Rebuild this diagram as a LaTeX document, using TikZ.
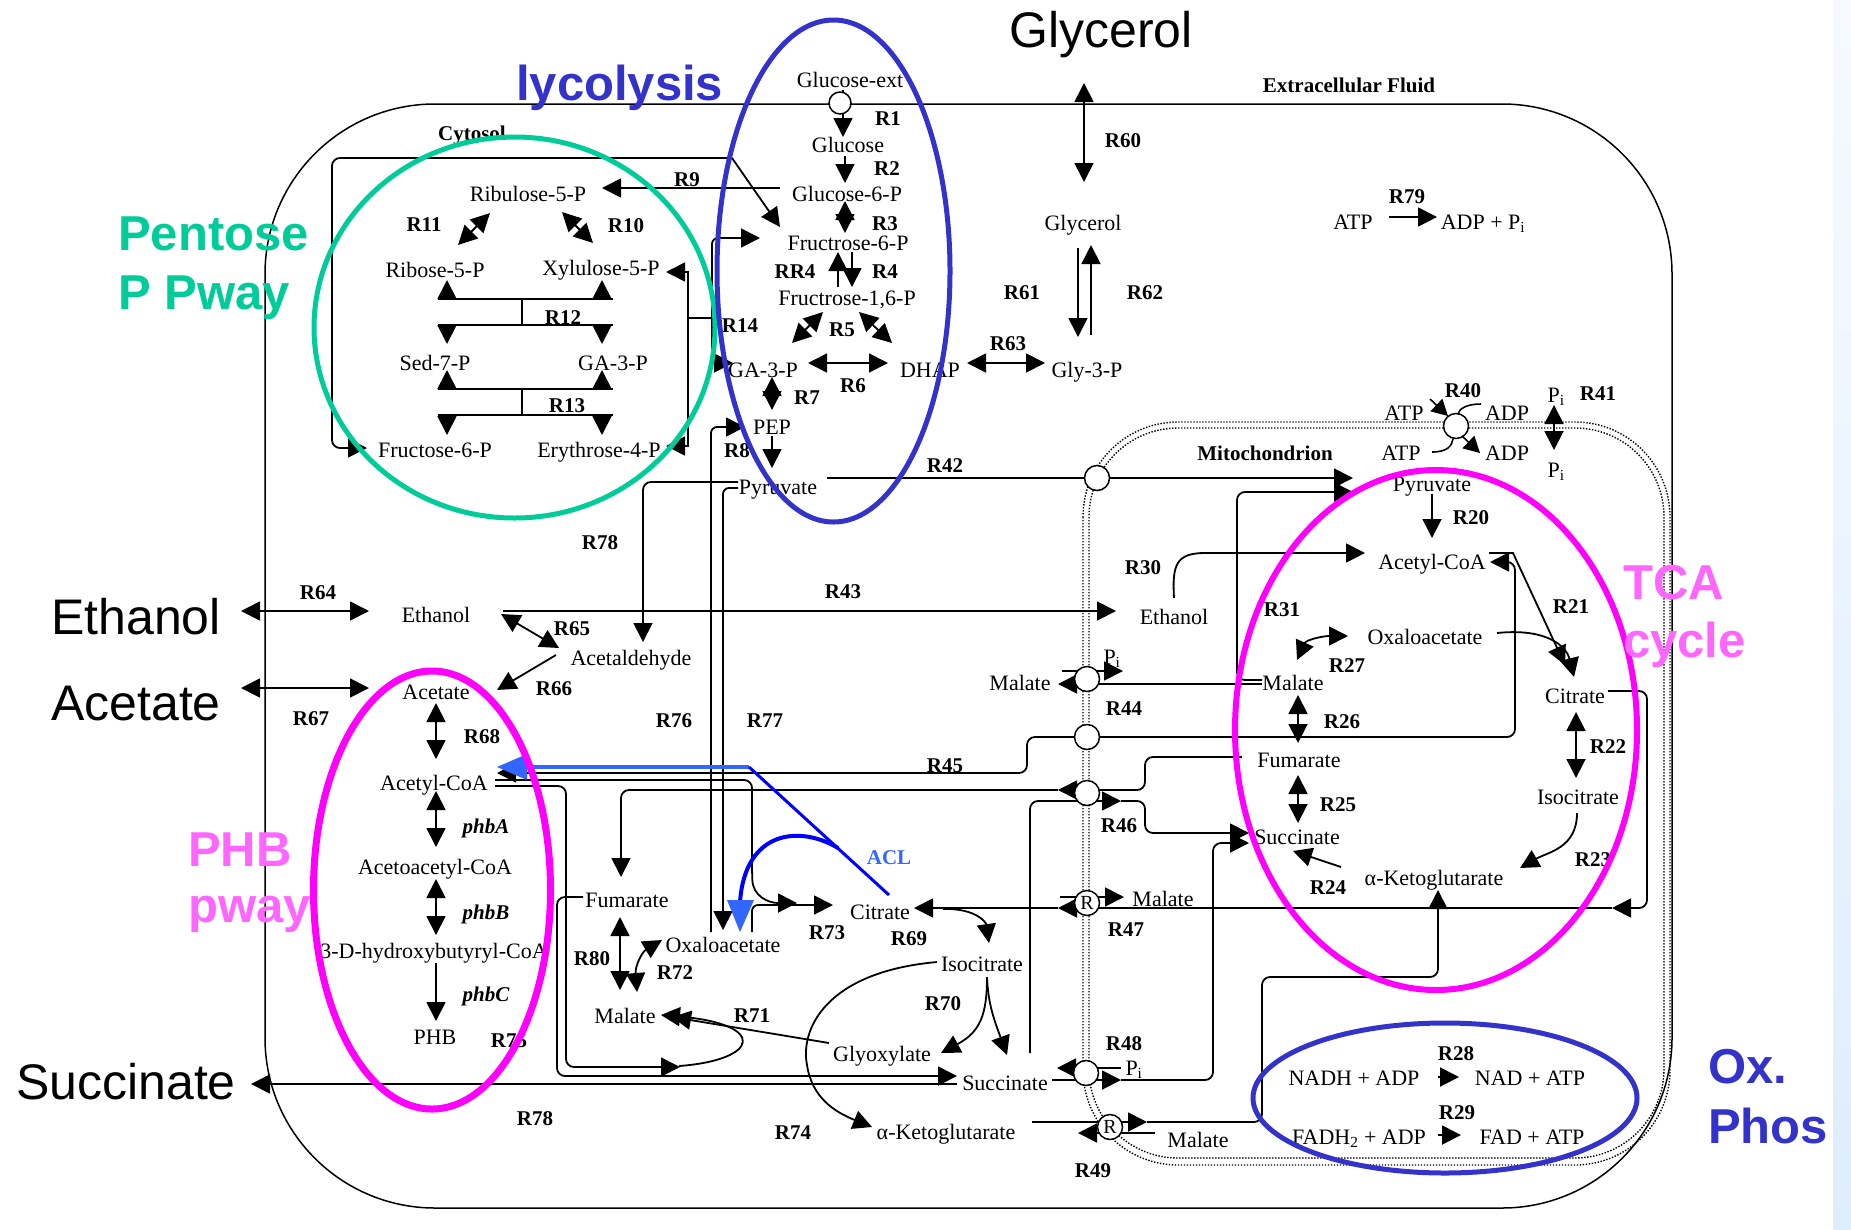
\documentclass[tikz,border=0pt]{standalone}
\usepackage{fontspec}
\setmainfont{Liberation Serif}
\newfontfamily\arialf{Liberation Sans}
\usetikzlibrary{arrows.meta,shapes.geometric}
\definecolor{pppg}{RGB}{0,204,153}
\definecolor{glyb}{RGB}{51,51,204}
\definecolor{mag}{RGB}{255,0,255}
\definecolor{magt}{RGB}{255,102,255}
\definecolor{acll}{RGB}{51,102,255}
\definecolor{acld}{RGB}{0,0,255}
\definecolor{stripa}{RGB}{246,250,255}
\definecolor{stripb}{RGB}{222,237,252}
\tikzset{
 lbl/.style={font=\fontsize{22}{24}\selectfont, inner sep=0pt, text height=15pt, text depth=0pt},
 rl/.style={font=\fontsize{21}{23}\selectfont\bfseries, inner sep=0pt, text height=14pt, text depth=0pt},
 rli/.style={font=\fontsize{21}{23}\selectfont\bfseries\itshape, inner sep=0pt, text height=14pt, text depth=0pt},
 bigl/.style={font=\arialf\fontsize{50}{56}\selectfont, inner sep=0pt, anchor=base west},
 grp/.style={font=\arialf\fontsize{49}{56}\selectfont\bfseries, inner sep=0pt, anchor=base west},
 ln/.style={line width=1.6pt},
 ar/.style={line width=1.8pt, -{Triangle[length=19pt,width=19pt]}},
 dar/.style={line width=1.8pt, {Triangle[length=19pt,width=19pt]}-{Triangle[length=19pt,width=19pt]}},
 ars/.style={line width=1.6pt, -{Triangle[length=16pt,width=17pt]}},
 tp/.style={circle, draw, line width=1.5pt, fill=white, minimum size=25pt, inner sep=0pt},
 tpr/.style={tp, font=\fontsize{20}{20}\selectfont},
 memb/.style={line width=1.4pt, dash pattern=on 1.4pt off 1.6pt},
}
\begin{document}
\begin{tikzpicture}[x=1pt,y=-1pt]
\useasboundingbox (0,0) rectangle (1851,1229);
\fill[white] (0,0) rectangle (1851,1229);
\shade[top color=stripa,bottom color=stripb] (1833,0) rectangle (1851,1229);
% cell and mitochondrion
\draw[line width=1.5pt,rounded corners=170pt] (265,104) rectangle (1672,1208);
\draw[memb,rounded corners=95pt] (1083,422) rectangle (1670,1165);
\draw[memb,rounded corners=89pt] (1089,428) rectangle (1664,1158);

% ---------- connectors: glycolysis ----------
\draw[ar] (843,90) -- (843,137);
\draw[ar] (845,156) -- (845,183);
\draw[dar] (845,201) -- (845,233);
\draw[ar] (852,252) -- (852,287);
\draw[ar] (838,287) -- (838,252);
\draw[dar] (823,312) -- (792,343);
\draw[dar] (859,312) -- (892,343);
\draw[dar] (808,363) -- (888,363);
\draw[dar] (967,363) -- (1045,363);
\draw[dar] (772,377) -- (772,410);
\draw[ar] (772,436) -- (772,468);
\draw[dar] (1084,83) -- (1084,182);
\draw[ar] (1078,248) -- (1078,337);
\draw[ar] (1091,335) -- (1091,245);
\draw[ar] (1389,217) -- (1437,217);

% ---------- pentose phosphate ----------
\draw[ar] (780,188) -- (602,188);
\draw[ar,rounded corners=8pt] (732,158) -- (332,158) -- (332,448) -- (367,448);
\draw[ar] (732,158) -- (780,227);
\draw[dar] (490,213) -- (458,245);
\draw[dar] (562,212) -- (593,243);
\draw[ln] (438,299) -- (613,299); \draw[ln] (438,325) -- (613,325); \draw[ln] (522,299) -- (522,325);
\draw[ar] (447,300) -- (447,280); \draw[ar] (602,300) -- (602,280);
\draw[ar] (447,324) -- (447,344); \draw[ar] (602,324) -- (602,344);
\draw[ln] (438,389) -- (613,389); \draw[ln] (438,415) -- (613,415); \draw[ln] (522,389) -- (522,415);
\draw[ar] (447,390) -- (447,370); \draw[ar] (602,390) -- (602,370);
\draw[ar] (447,414) -- (447,435); \draw[ar] (602,414) -- (602,435);
\draw[ar] (688,318) -- (688,272) -- (666,272);
\draw[ar] (688,318) -- (688,446) -- (666,446);
\draw[ln] (688,318) -- (712,318);
\draw[ar,rounded corners=6pt] (712,318) -- (712,238) -- (760,238);
\draw[ar] (712,318) -- (712,363) -- (733,363);

% ---------- cytosol ----------
\draw[ar] (827,478) -- (1353,478);
\draw[ar,rounded corners=8pt] (738,482) -- (643,482) -- (643,642);
\draw[ar,rounded corners=6pt] (738,488) -- (723,488) -- (723,930);
\draw[ar,rounded corners=6pt] (711,932) -- (711,427) -- (745,427);
\draw[ar] (503,611) -- (1116,611);
\draw[dar] (241,611) -- (369,611);
\draw[dar] (241,688) -- (369,688);
\draw[dar] (501,614) -- (559,648);
\draw[ar] (556,655) -- (497,690);
\draw[dar] (436,703) -- (436,759);
\draw[dar] (436,791) -- (436,847);
\draw[dar] (436,879) -- (436,935);
\draw[ar] (436,963) -- (436,1021);
\draw[ar] (957,1084) -- (251,1084);
\draw[ar,rounded corners=8pt] (583,897) -- (557,897) -- (557,1076) -- (957,1076);
\draw[ar,rounded corners=8pt] (495,786) -- (566,786) -- (566,1067) -- (680,1067);
\draw[ar] (679,1066) .. controls (760,1060) and (768,1024) .. (661,1015);
\draw[ar] (829,1043) -- (672,1017);
% R46
\draw[ar,rounded corners=8pt] (1058,790) -- (621,790) -- (621,877);
\draw[ar,rounded corners=8pt] (1242,757) -- (1145,757) -- (1145,790) -- (1058,790);
\draw[ar,rounded corners=8pt] (1030,1053) -- (1030,801) -- (1121,801);
\draw[ar,rounded corners=8pt] (1121,801) -- (1145,801) -- (1145,833) -- (1249,833);
% R45
\draw[ar,rounded corners=8pt] (1087,737) -- (1515,737) -- (1515,562) -- (1490,562);
\draw[ar,rounded corners=8pt] (1087,737) -- (1027,737) -- (1027,773) -- (497,773);
% R73
\draw[ar,rounded corners=8pt] (495,780) -- (752,780) -- (752,872) .. controls (753,896) and (768,903) .. (797,903);
\draw[ar,rounded corners=6pt] (752,932) -- (752,905) -- (833,905);
% R69 R70 R74
\draw[ar] (943,909) .. controls (975,908) and (986,922) .. (989,943);
\draw[ar] (987,977) .. controls (987,1015) and (980,1032) .. (941,1053);
\draw[ar] (987,977) .. controls (988,1005) and (995,1022) .. (1007,1055);
\draw[ar] (937,962) .. controls (825,972) and (800,1030) .. (807,1065) .. controls (812,1098) and (835,1112) .. (872,1127);
\draw[dar] (620,917) -- (620,990);
\draw[dar] (637,992) .. controls (635,966) and (642,952) .. (662,940);
% R47
\draw[ar,rounded corners=8pt] (1608,691) -- (1647,691) -- (1647,908) -- (1612,908);
\draw[ar] (1612,908) -- (1058,908);
\draw[ar] (1058,908) -- (914,908);
\draw[ar] (1060,897) -- (1124,897);
% R48 R49
\draw[ar] (1052,1080) -- (1121,1080);
\draw[ar] (1121,1068) -- (1057,1068);
\draw[ar,rounded corners=8pt] (1121,1080) -- (1213,1080) -- (1213,843) -- (1249,843);
\draw[ar] (1032,1122) -- (1147,1122);
\draw[ar] (1155,1133) -- (1078,1133);
\draw[ar,rounded corners=8pt] (1147,1122) -- (1262,1122) -- (1262,977) -- (1438,977) -- (1438,890);
% R44 R31
\draw[ar] (1262,684) -- (1058,684);
\draw[ar] (1062,671) -- (1123,671);
\draw[ar,rounded corners=8pt] (1262,680) -- (1237,680) -- (1237,492) -- (1353,492);
% mitochondrion TCA
\draw[ar] (1174,598) .. controls (1172,565) and (1176,553) .. (1205,553) -- (1365,553);
\draw[ar] (1432,494) -- (1432,538);
\draw[ar] (1489,553) -- (1513,553) -- (1565,665);
\draw[ar] (1497,633) .. controls (1545,628) and (1566,645) .. (1574,677);
\draw[dar] (1297,660) .. controls (1306,640) and (1322,636) .. (1348,636);
\draw[dar] (1298,695) -- (1298,743);
\draw[dar] (1298,775) -- (1298,823);
\draw[dar] (1576,712) -- (1576,778);
\draw[ar] (1577,813) .. controls (1577,848) and (1548,852) .. (1520,868);
\draw[ar] (1341,867) -- (1293,851);
% Ox phos
\draw[ar] (1438,1077) -- (1459,1077);
\draw[ar] (1438,1135) -- (1461,1135);
\draw[dar] (1554,405) -- (1554,450);

% ---------- ACL (blue) ----------
\draw[acll,line width=3.5pt] (749,767) -- (522,767);
\fill[acll] (497,767) -- (527,754) -- (527,780) -- cycle;
\draw[acld,line width=3pt] (749,767) -- (889,895);
\draw[acld,line width=4pt] (838,848) .. controls (800,825) and (745,830) .. (740,902);
\fill[acll] (727,900) -- (754,900) -- (740,932) -- cycle;

% ---------- transporters ----------
\node[tp,minimum size=22pt] (t1) at (840,103) {};
\node[tp] (t42) at (1097,478) {};
\node[tp] (t40) at (1456,426) {};
\node[tp] (t44) at (1087,679) {};
\node[tp] (t45) at (1087,737) {};
\node[tp] (t46) at (1087,793) {};
\node[tpr] (t47) at (1087,903) {R};
\node[tp] (t48) at (1086,1073) {};
\node[tpr] (t49) at (1110,1127) {R};
\draw[ars] (1430,399) -- (1448,416);
\draw[ln] (1481,404) .. controls (1466,404) and (1459,409) .. (1458,414);
\draw[ln] (1432,452) .. controls (1447,452) and (1452,446) .. (1453,439);
\draw[ars] (1462,436) -- (1480,453);

% ---------- metabolite labels ----------
\node[lbl] (glcext) at (850,80) {Glucose-ext};
\node[lbl] (glc) at (848,145) {Glucose};
\node[lbl] (g6p) at (847,194) {Glucose-6-P};
\node[lbl] (f6p) at (848,243) {Fructrose-6-P};
\node[lbl] (fbp) at (847,298) {Fructrose-1,6-P};
\node[lbl] (ga3p) at (763,370) {GA-3-P};
\node[lbl] (dhap) at (930,370) {DHAP};
\node[lbl] (gly3p) at (1087,370) {Gly-3-P};
\node[lbl] (pep) at (772,427) {PEP};
\node[lbl] (pyr) at (778,487) {Pyruvate};
\node[lbl] (glyin) at (1083,223) {Glycerol};
\node[lbl] (atp79) at (1353,222) {ATP};
\node[lbl] (adp79) at (1483,222) {ADP + P\textsubscript{i}};
\node[lbl] (ru5p) at (528,194) {Ribulose-5-P};
\node[lbl] (r5p) at (435,270) {Ribose-5-P};
\node[lbl] (x5p) at (601,268) {Xylulose-5-P};
\node[lbl] (s7p) at (435,363) {Sed-7-P};
\node[lbl] (ga3pP) at (613,363) {GA-3-P};
\node[lbl] (f6pP) at (435,450) {Fructose-6-P};
\node[lbl] (e4p) at (599,450) {Erythrose-4-P};
\node[lbl] (etoh) at (436,615) {Ethanol};
\node[lbl] (acald) at (631,658) {Acetaldehyde};
\node[lbl] (ac) at (436,692) {Acetate};
\node[lbl] (accoa) at (434,783) {Acetyl-CoA};
\node[lbl] (aacoa) at (435,867) {Acetoacetyl-CoA};
\node[lbl] (hbcoa) at (434,951) {3-D-hydroxybutyryl-CoA};
\node[lbl] (phb) at (435,1037) {PHB};
\node[lbl] (fum) at (627,900) {Fumarate};
\node[lbl] (oaa) at (723,945) {Oxaloacetate};
\node[lbl] (mal) at (625,1016) {Malate};
\node[lbl] (cit) at (880,912) {Citrate};
\node[lbl] (icit) at (982,964) {Isocitrate};
\node[lbl] (glx) at (882,1054) {Glyoxylate};
\node[lbl] (suc) at (1005,1083) {Succinate};
\node[lbl] (akg) at (946,1132) {α-Ketoglutarate};
\node[lbl] (malc) at (1020,683) {Malate};
\node[lbl] (pyrm) at (1432,484) {Pyruvate};
\node[lbl] (accoam) at (1432,562) {Acetyl-CoA};
\node[lbl] (etohm) at (1174,617) {Ethanol};
\node[lbl] (oaam) at (1425,637) {Oxaloacetate};
\node[lbl] (malm) at (1293,683) {Malate};
\node[lbl] (fumm) at (1299,760) {Fumarate};
\node[lbl] (sucm) at (1297,837) {Succinate};
\node[lbl] (akgm) at (1434,878) {α-Ketoglutarate};
\node[lbl] (citm) at (1575,696) {Citrate};
\node[lbl] (icitm) at (1578,797) {Isocitrate};
\node[lbl] (malm47) at (1163,899) {Malate};
\node[lbl] (malm49) at (1198,1140) {Malate};
\node[lbl] (nadh) at (1354,1078) {NADH + ADP};
\node[lbl] (nad) at (1530,1078) {NAD + ATP};
\node[lbl] (fadh) at (1359,1137) {FADH\textsubscript{2} + ADP};
\node[lbl] (fad) at (1532,1137) {FAD + ATP};
\node[lbl] (atpa) at (1404,413) {ATP};
\node[lbl] (adpa) at (1507,413) {ADP};
\node[lbl] (atpb) at (1401,453) {ATP};
\node[lbl] (adpb) at (1507,453) {ADP};
\node[lbl] (pia) at (1556,395) {P\textsubscript{i}};
\node[lbl] (pib) at (1556,470) {P\textsubscript{i}};
\node[lbl] (pi44) at (1112,657) {P\textsubscript{i}};
\node[lbl] (pi48) at (1134,1068) {P\textsubscript{i}};
\node[rl] (cyto) at (472,133) {Cytosol};
\node[rl] (extra) at (1349,85) {Extracellular Fluid};
\node[rl] (mito) at (1265,453) {Mitochondrion};

% ---------- reaction labels ----------
\node[rl] (lR1) at (888,118) {R1};
\node[rl] (lR2) at (887,168) {R2};
\node[rl] (lR3) at (885,223) {R3};
\node[rl] (lRR4) at (795,271) {RR4};
\node[rl] (lR4) at (885,271) {R4};
\node[rl] (lR5) at (842,329) {R5};
\node[rl] (lR6) at (853,385) {R6};
\node[rl] (lR7) at (807,397) {R7};
\node[rl] (lR8) at (737,450) {R8};
\node[rl] (lR9) at (687,179) {R9};
\node[rl] (lR10) at (626,225) {R10};
\node[rl] (lR11) at (424,224) {R11};
\node[rl] (lR12) at (563,317) {R12};
\node[rl] (lR13) at (567,405) {R13};
\node[rl] (lR14) at (740,325) {R14};
\node[rl] (lR60) at (1123,140) {R60};
\node[rl] (lR61) at (1022,292) {R61};
\node[rl] (lR62) at (1145,292) {R62};
\node[rl] (lR63) at (1008,343) {R63};
\node[rl] (lR79) at (1407,196) {R79};
\node[rl] (lR42) at (945,465) {R42};
\node[rl] (lR40) at (1463,390) {R40};
\node[rl] (lR41) at (1598,393) {R41};
\node[rl] (lR78a) at (600,542) {R78};
\node[rl] (lR64) at (318,592) {R64};
\node[rl] (lR43) at (843,591) {R43};
\node[rl] (lR65) at (572,628) {R65};
\node[rl] (lR66) at (554,688) {R66};
\node[rl] (lR67) at (311,718) {R67};
\node[rl] (lR68) at (482,736) {R68};
\node[rl] (lR76) at (674,720) {R76};
\node[rl] (lR77) at (765,720) {R77};
\node[rl] (lR45) at (945,765) {R45};
\node[rl] (lR30) at (1143,567) {R30};
\node[rl] (lR31) at (1282,609) {R31};
\node[rl] (lR20) at (1471,517) {R20};
\node[rl] (lR21) at (1571,606) {R21};
\node[rl] (lR27) at (1347,665) {R27};
\node[rl] (lR44) at (1124,708) {R44};
\node[rl] (lR26) at (1342,721) {R26};
\node[rl] (lR22) at (1608,746) {R22};
\node[rl] (lR46) at (1119,825) {R46};
\node[rl] (lR25) at (1338,804) {R25};
\node[rl] (lR23) at (1593,859) {R23};
\node[rl] (lR24) at (1328,887) {R24};
\node[rl,text=acll] (lACL) at (889,857) {ACL};
\node[rl] (lR73) at (827,932) {R73};
\node[rl] (lR69) at (909,938) {R69};
\node[rl] (lR47) at (1126,929) {R47};
\node[rl] (lR80) at (592,958) {R80};
\node[rl] (lR72) at (675,972) {R72};
\node[rl] (lR70) at (943,1003) {R70};
\node[rl] (lR71) at (752,1015) {R71};
\node[rl] (lR48) at (1124,1043) {R48};
\node[rl] (lR75) at (509,1040) {R75};
\node[rl] (lR28) at (1456,1053) {R28};
\node[rl] (lR29) at (1457,1112) {R29};
\node[rl] (lR78b) at (535,1118) {R78};
\node[rl] (lR74) at (793,1132) {R74};
\node[rl] (lR49) at (1093,1170) {R49};
\node[rli] (lphbA) at (486,826) {phbA};
\node[rli] (lphbB) at (486,912) {phbB};
\node[rli] (lphbC) at (486,994) {phbC};

% ---------- pathway ellipses ----------
\draw[pppg,line width=5pt] (514.5,327.5) ellipse [x radius=200.5pt, y radius=190.5pt];
\draw[glyb,line width=5pt] (833.5,271) ellipse [x radius=116.5pt, y radius=251pt];
\draw[mag,line width=6pt] (1436,730) ellipse [x radius=201pt, y radius=260pt];
\draw[mag,line width=7pt] (432,890) ellipse [x radius=118.5pt, y radius=219pt];
\draw[glyb,line width=5pt] (1445,1098) ellipse [x radius=192pt, y radius=75pt];

% ---------- big labels ----------
\node[bigl] (bgly) at (1009,47) {Glycerol};
\node[bigl] (beth) at (51,634) {Ethanol};
\node[bigl] (bace) at (51,720) {Acetate};
\node[bigl] (bsuc) at (16,1099) {Succinate};
\node[grp,text=glyb] (tgly) at (516,100) {lycolysis};
\node[grp,text=pppg] (tppp1) at (118,250) {Pentose};
\node[grp,text=pppg] (tppp2) at (118,309) {P Pway};
\node[grp,text=magt] (tphb1) at (188,866) {PHB};
\node[grp,text=magt] (tphb2) at (188,922) {pway};
\node[grp,text=magt] (ttca1) at (1623,599) {TCA};
\node[grp,text=magt] (ttca2) at (1623,657) {cycle};
\node[grp,text=glyb] (tox1) at (1708,1083) {Ox.};
\node[grp,text=glyb] (tox2) at (1708,1143) {Phos};
\end{tikzpicture}
\end{document}
